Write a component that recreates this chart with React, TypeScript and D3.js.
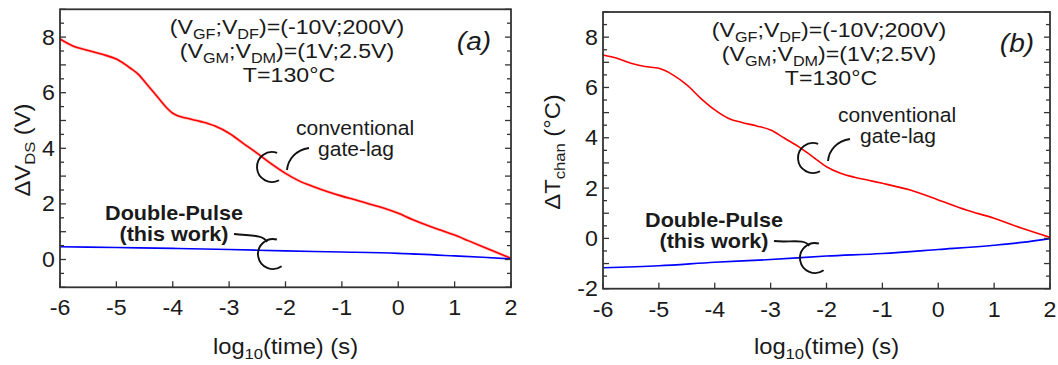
import React from 'react';
import * as d3 from 'd3';

// ---------- data ----------
const xTickValues = [-6, -5, -4, -3, -2, -1, 0, 1, 2];
const leftYTickLabels = [0, 2, 4, 6, 8];
const rightYTickLabels = [-2, 0, 2, 4, 6, 8];

const leftRedX = [-6, -5.75, -5.5, -5.25, -5, -4.75, -4.6, -4.5, -4.4, -4.25, -4.1, -4, -3.9, -3.75, -3.5, -3.25, -3, -2.75, -2.5, -2.25, -2, -1.75, -1.5, -1.25, -1, -0.75, -0.5, -0.25, 0, 0.25, 0.5, 0.75, 1, 1.25, 1.5, 1.75, 2];
const leftRedY = [7.93, 7.66, 7.52, 7.38, 7.21, 6.88, 6.64, 6.40, 6.16, 5.80, 5.44, 5.26, 5.16, 5.08, 4.96, 4.80, 4.54, 4.18, 3.82, 3.44, 3.10, 2.82, 2.62, 2.44, 2.28, 2.14, 1.99, 1.84, 1.66, 1.44, 1.24, 1.06, 0.88, 0.67, 0.46, 0.25, 0.04];

const leftBlueX = [-6, -5, -4, -3, -2, -1, 0, 1, 1.5, 2];
const leftBlueY = [0.46, 0.43, 0.40, 0.36, 0.31, 0.27, 0.22, 0.13, 0.08, 0.02];

const rightRedX = [-6, -5.75, -5.5, -5.25, -5, -4.75, -4.5, -4.25, -4, -3.75, -3.5, -3.25, -3, -2.75, -2.5, -2.25, -2, -1.75, -1.5, -1.25, -1, -0.5, 0, 0.5, 1, 1.5, 2];
const rightRedY = [7.29, 7.16, 6.96, 6.83, 6.76, 6.50, 6.10, 5.57, 5.11, 4.77, 4.60, 4.47, 4.31, 3.98, 3.65, 3.25, 2.85, 2.59, 2.43, 2.31, 2.19, 1.92, 1.53, 1.13, 0.80, 0.40, 0.04];

const rightBlueX = [-6, -5, -4, -3, -2, -1, 0, 1, 1.5, 2];
const rightBlueY = [-1.17, -1.09, -0.95, -0.84, -0.70, -0.60, -0.44, -0.27, -0.16, -0.01];

const FONT = 'Liberation Sans, Arial, Helvetica, sans-serif';
const TXT = '#1a1a1a';
const SX = 1.08; // slight horizontal stretch of the original figure's text

type Seg = { t: string; sub?: boolean };

function Txt(props: { x: number; y: number; size: number; anchor?: string; weight?: string; italic?: boolean; rotate?: number; sx?: number; segs: Seg[] }) {
  const { x, y, size, anchor = 'middle', weight = 'normal', italic = false, rotate = 0, sx = SX, segs } = props;
  return (
    <g transform={`translate(${x},${y}) rotate(${rotate}) scale(${sx},1)`}>
      <text x={0} y={0} fontFamily={FONT} fontSize={size} fill={TXT} textAnchor={anchor as any} fontWeight={weight} fontStyle={italic ? 'italic' : 'normal'}>
        {segs.map((s, i) => {
          const prevSub = i > 0 && segs[i - 1].sub;
          const dy = s.sub && !prevSub ? size * 0.22 : !s.sub && prevSub ? -size * 0.22 : 0;
          return (
            <tspan key={i} dy={dy} fontSize={s.sub ? size * 0.7 : size}>{s.t}</tspan>
          );
        })}
      </text>
    </g>
  );
}

type PanelProps = {
  x0: number; x1: number; y0: number; y1: number;
  yDomain: [number, number];
  yLabels: number[];
  red: [number[], number[]];
  blue: [number[], number[]];
  redHaze?: boolean;
  ylabel: Seg[];
  ylabelPos: [number, number];
  letter: string;
  letterPos: [number, number];
  infoX: number; infoY: number;
  conv: [number, number];
  convArc: [number, number];
  dp: [number, number];
  dpArc: [number, number];
};

function Panel(p: PanelProps) {
  const xs = d3.scaleLinear().domain([-6, 2]).range([p.x0, p.x1]);
  const ys = d3.scaleLinear().domain(p.yDomain).range([p.y1, p.y0]);
  const line = d3.line<[number, number]>().x(d => xs(d[0])).y(d => ys(d[1])).curve(d3.curveMonotoneX);
  const redPts = p.red[0].map((v, i) => [v, p.red[1][i]] as [number, number]);
  const bluePts = p.blue[0].map((v, i) => [v, p.blue[1][i]] as [number, number]);
  const minorY: number[] = [];
  for (let v = p.yDomain[0]; v <= p.yDomain[1] + 1e-9; v += 0.5) minorY.push(v);

  const arcPath = (cx: number, cy: number, r: number, a0: number, a1: number) => {
    const rad = (a: number) => (a * Math.PI) / 180;
    const sx = cx + r * Math.cos(rad(a0)), sy = cy + r * Math.sin(rad(a0));
    const ex = cx + r * Math.cos(rad(a1)), ey = cy + r * Math.sin(rad(a1));
    return `M${sx},${sy} A${r},${r} 0 1 0 ${ex},${ey}`;
  };
  const [ccx, ccy] = p.convArc;
  const [dcx, dcy] = p.dpArc;

  return (
    <g>
      {/* curves */}
      {p.redHaze && <path d={line(redPts) || ''} fill="none" stroke="#ff6060" strokeOpacity={0.35} strokeWidth={3.2} />}
      <path d={line(redPts) || ''} fill="none" stroke="#ff0000" strokeWidth={1.6} />
      <path d={line(bluePts) || ''} fill="none" stroke="#0000ff" strokeWidth={1.6} />

      {/* frame */}
      <rect x={p.x0} y={p.y0} width={p.x1 - p.x0} height={p.y1 - p.y0} fill="none" stroke="#333" strokeWidth={1.8} />
      {minorY.map(v => {
        const L = Math.abs(v - Math.round(v)) < 1e-6 ? 6 : 4;
        return (
          <g key={v}>
            <line x1={p.x0} x2={p.x0 + L} y1={ys(v)} y2={ys(v)} stroke="#333" strokeWidth={1.3} />
            <line x1={p.x1} x2={p.x1 - L} y1={ys(v)} y2={ys(v)} stroke="#333" strokeWidth={1.3} />
          </g>
        );
      })}
      {xTickValues.map(v => (
        <line key={v} x1={xs(v)} x2={xs(v)} y1={p.y1} y2={p.y1 - 6} stroke="#333" strokeWidth={1.3} />
      ))}
      {/* tick labels */}
      {xTickValues.map(v => (
        <Txt key={v} x={xs(v)} y={p.y1 + 28} size={21.5} segs={[{ t: String(v) }]} />
      ))}
      {p.yLabels.map(v => (
        <Txt key={v} x={p.x0 - 5} y={ys(v) + 7.5} size={21.5} anchor="end" segs={[{ t: String(v) }]} />
      ))}
      {/* axis labels */}
      <Txt x={(p.x0 + p.x1) / 2} y={354} size={22} segs={[{ t: 'log' }, { t: '10', sub: true }, { t: '(time) (s)' }]} />
      <Txt x={p.ylabelPos[0]} y={p.ylabelPos[1]} size={22} rotate={-90} segs={p.ylabel} />

      {/* info */}
      <Txt x={p.infoX} y={p.infoY} size={20.5} sx={1.13} segs={[{ t: '(V' }, { t: 'GF', sub: true }, { t: ';V' }, { t: 'DF', sub: true }, { t: ')=(-10V;200V)' }]} />
      <Txt x={p.infoX} y={p.infoY + 24} size={20.5} sx={1.13} segs={[{ t: '(V' }, { t: 'GM', sub: true }, { t: ';V' }, { t: 'DM', sub: true }, { t: ')=(1V;2.5V)' }]} />
      <Txt x={p.infoX + 2} y={p.infoY + 48} size={20.5} sx={1.13} segs={[{ t: 'T=130°C' }]} />
      <Txt x={p.letterPos[0]} y={p.letterPos[1]} size={26} italic segs={[{ t: p.letter }]} />

      {/* conventional gate-lag annotation */}
      <Txt x={p.conv[0]} y={p.conv[1]} size={19.5} segs={[{ t: 'conventional' }]} />
      <Txt x={p.conv[0] + 1} y={p.conv[1] + 21} size={19.5} segs={[{ t: 'gate-lag' }]} />
      <path d={arcPath(ccx, ccy, 15, -70, 62)} fill="none" stroke="#111" strokeWidth={1.9} />
      <path d={`M${ccx + 15},${ccy + 3} C${ccx + 16},${ccy - 8} ${ccx + 24},${ccy - 17} ${ccx + 37},${ccy - 19}`} fill="none" stroke="#111" strokeWidth={1.9} />

      {/* double pulse annotation */}
      <Txt x={p.dp[0]} y={p.dp[1]} size={20} weight="bold" segs={[{ t: 'Double-Pulse' }]} />
      <Txt x={p.dp[0]} y={p.dp[1] + 21} size={20} weight="bold" segs={[{ t: '(this work)' }]} />
      <path d={arcPath(dcx, dcy, 15, -75, 55)} fill="none" stroke="#111" strokeWidth={1.9} />
      <path d={`M${p.dp[0] + 60},${p.dp[1] + 14} C${p.dp[0] + 75},${p.dp[1] + 16} ${dcx - 10},${dcy - 20} ${dcx - 6},${dcy - 12}`} fill="none" stroke="#111" strokeWidth={1.9} />
    </g>
  );
}

export default function App() {
  return (
    <svg width={1058} height={365} style={{ position: 'absolute', left: 0, top: 0, background: '#fff' }}>
      <rect width={1058} height={365} fill="#fff" />
      <Panel
        x0={60} x1={511} y0={9.3} y1={287.3}
        yDomain={[-1, 9]} yLabels={leftYTickLabels}
        red={[leftRedX, leftRedY]} blue={[leftBlueX, leftBlueY]} redHaze
        ylabel={[{ t: 'ΔV' }, { t: 'DS', sub: true }, { t: ' (V)' }]}
        ylabelPos={[30, 150]}
        letter="(a)" letterPos={[474, 50]}
        infoX={287} infoY={34}
        conv={[355, 135]} convArc={[272, 167]}
        dp={[174, 220]} dpArc={[273, 254]}
      />
      <Panel
        x0={603} x1={1050} y0={12} y1={288.7}
        yDomain={[-2, 9]} yLabels={rightYTickLabels}
        red={[rightRedX, rightRedY]} blue={[rightBlueX, rightBlueY]}
        ylabel={[{ t: 'ΔT' }, { t: 'chan', sub: true }, { t: ' (°C)' }]}
        ylabelPos={[560, 152]}
        letter="(b)" letterPos={[1017, 52]}
        infoX={829} infoY={37}
        conv={[897, 122]} convArc={[813, 158]}
        dp={[714, 227]} dpArc={[815, 258]}
      />
    </svg>
  );
}
